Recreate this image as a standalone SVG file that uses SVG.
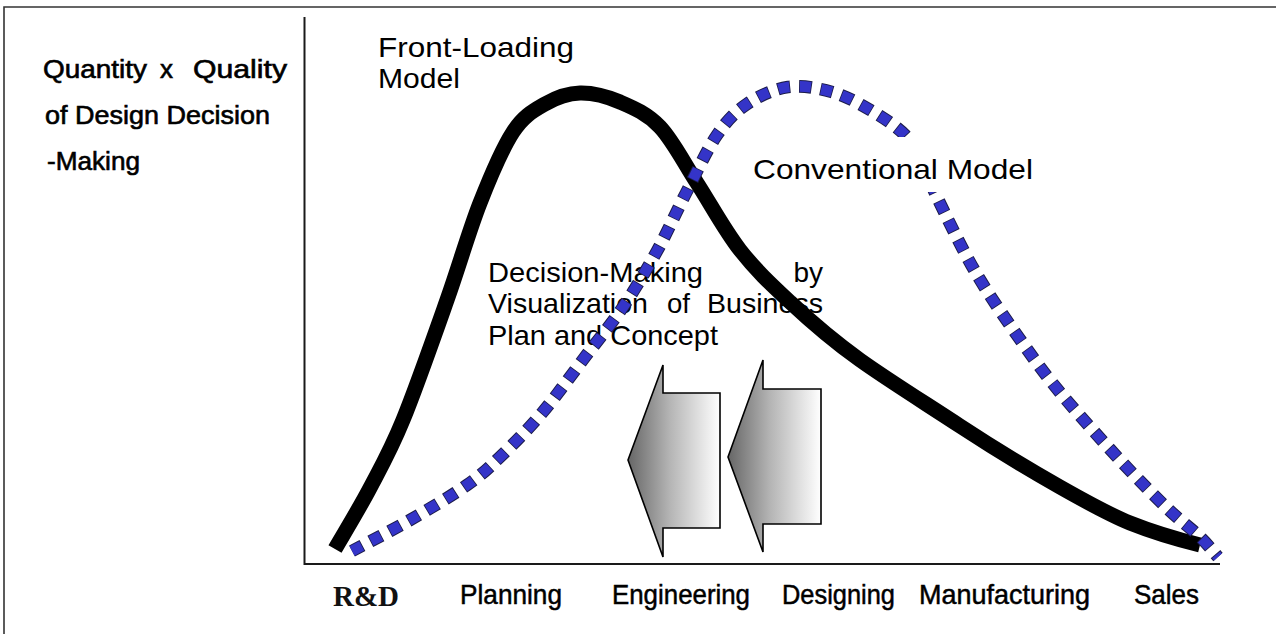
<svg xmlns="http://www.w3.org/2000/svg" width="1276" height="634" viewBox="0 0 1276 634">
  <style>
    .ylab { font-family: "Liberation Sans", Arial, sans-serif; font-size: 25px; fill: #000; stroke: #000; stroke-width: 0.6; }
    .xlab { font-family: "Liberation Sans", Arial, sans-serif; font-size: 28px; fill: #000; stroke: #000; stroke-width: 0.5; }
    .rd { font-family: "Liberation Serif", "Times New Roman", serif; font-size: 29px; font-weight: bold; fill: #111; }
    .note { font-family: "Liberation Sans", Arial, sans-serif; font-size: 28px; fill: #000; }
    .axis { stroke: #1a1a1a; stroke-width: 2; fill: none; }
    .frame { stroke: #333; stroke-width: 1.6; fill: none; }
    .arrow { fill: url(#arrowGrad); stroke: #000; stroke-width: 1.6; stroke-linejoin: miter; }
    .front { fill: none; stroke: #000; stroke-width: 15; stroke-linecap: butt; stroke-linejoin: round; }
    .convOutline { fill: none; stroke: #1c1c4a; stroke-width: 12.6; stroke-dasharray: 12.6 8.9; stroke-dashoffset: 0.8; stroke-linecap: butt; }
    .convFill { fill: none; stroke: #3434c8; stroke-width: 10.6; stroke-dasharray: 11 10.5; stroke-linecap: butt; }
  </style>
  <defs>
    <linearGradient id="arrowGrad" x1="0" y1="0" x2="1" y2="0">
      <stop offset="0" stop-color="#666666"/>
      <stop offset="0.45" stop-color="#b4b4b4"/>
      <stop offset="1" stop-color="#ffffff"/>
    </linearGradient>
    <path id="convPath" d="M352,551 C361.7,545.8 390.8,531 410,520 C429.2,509 452,495.5 467,485 C482,474.5 487.5,469 500,457 C512.5,445 527.8,429.7 542,413 C556.2,396.3 571.5,374.7 585,357 C598.5,339.3 611,324.7 623,307 C635,289.3 646.5,270 657,251 C667.5,232 676,212.3 686,193 C696,173.7 706.8,149.8 717,135 C727.2,120.2 735.2,112 747,104 C758.8,96 773.8,89 788,87 C802.2,85 818,88 832,92 C846,96 859.8,103.8 872,111 C884.2,118.2 896.7,126.5 905,135 C913.3,143.5 916.7,151.7 922,162 C927.3,172.3 928,178.5 937,197 C946,215.5 961.5,248.3 976,273 C990.5,297.7 1009.5,324.5 1024,345 C1038.5,365.5 1047,376.8 1063,396 C1079,415.2 1102.7,441.3 1120,460 C1137.3,478.7 1153.7,495.2 1167,508 C1180.3,520.8 1191.5,528.8 1200,537 C1208.5,545.2 1215,553.7 1218,557"/>
  </defs>

  <rect x="0" y="0" width="1276" height="634" fill="#ffffff"/>

  <g id="frame">
    <path class="frame" d="M4,634 V7 H1276"/>
  </g>

  <g id="axes">
    <path class="axis" d="M304.5,17 V564 H1220"/>
  </g>

  <g id="y-axis-label">
    <text class="ylab" x="43" y="78" textLength="104" lengthAdjust="spacingAndGlyphs">Quantity</text>
    <text class="ylab" x="160" y="78" textLength="13" lengthAdjust="spacingAndGlyphs">x</text>
    <text class="ylab" x="193" y="78" textLength="94" lengthAdjust="spacingAndGlyphs">Quality</text>
    <text class="ylab" x="45" y="124" textLength="225" lengthAdjust="spacingAndGlyphs">of Design Decision</text>
    <text class="ylab" x="47" y="170" textLength="93" lengthAdjust="spacingAndGlyphs">-Making</text>
  </g>

  <g id="x-axis-labels">
    <text class="rd" x="333" y="606" textLength="66" lengthAdjust="spacingAndGlyphs">R&amp;D</text>
    <text class="xlab" x="460" y="604" textLength="102" lengthAdjust="spacingAndGlyphs">Planning</text>
    <text class="xlab" x="612" y="604" textLength="138" lengthAdjust="spacingAndGlyphs">Engineering</text>
    <text class="xlab" x="782" y="604" textLength="113" lengthAdjust="spacingAndGlyphs">Designing</text>
    <text class="xlab" x="919" y="604" textLength="171" lengthAdjust="spacingAndGlyphs">Manufacturing</text>
    <text class="xlab" x="1134" y="604" textLength="65" lengthAdjust="spacingAndGlyphs">Sales</text>
  </g>

  <g id="arrows">
    <polygon class="arrow" points="628,460 663,365 663,393 720,393 720,528 663,528 663,557"/>
    <polygon class="arrow" points="728,457 763,360 763,389 821,389 821,524 763,524 763,552"/>
  </g>

  <g id="annotation">
    <text class="note" x="488" y="282" textLength="215" lengthAdjust="spacingAndGlyphs">Decision-Making</text>
    <text class="note" x="823" y="282" text-anchor="end">by</text>
    <text class="note" x="488" y="313" textLength="160" lengthAdjust="spacingAndGlyphs">Visualization</text>
    <text class="note" x="667" y="313" textLength="23" lengthAdjust="spacingAndGlyphs">of</text>
    <text class="note" x="707" y="313" textLength="116" lengthAdjust="spacingAndGlyphs">Business</text>
    <text class="note" x="488" y="345" textLength="230" lengthAdjust="spacingAndGlyphs">Plan and Concept</text>
  </g>

  <g id="front-loading-curve">
    <path class="front" d="M335,549 C340.8,538.8 358.7,509.5 370,488 C381.3,466.5 390.2,451.3 403,420 C415.8,388.7 434.2,336.2 447,300 C459.8,263.8 469,231 480,203 C491,175 502.2,148.5 513,132 C523.8,115.5 533.8,110.5 545,104 C556.2,97.5 567.5,93.3 580,93 C592.5,92.7 606.7,96.3 620,102 C633.3,107.7 647.2,113.5 660,127 C672.8,140.5 683.7,162.5 697,183 C710.3,203.5 724.5,230.2 740,250 C755.5,269.8 770,283.3 790,302 C810,320.7 832,340 860,360 C888,380 925,403 960,426 C995,449 1030,470 1060,487 C1090,504 1110,515 1130,523 C1155,533 1188,542 1200,545"/>
  </g>

  <g id="conventional-curve">
    <use href="#convPath" class="convOutline"/>
    <use href="#convPath" class="convFill"/>
  </g>

  <g id="front-loading-label">
    <text class="note" x="378" y="57" textLength="196" lengthAdjust="spacingAndGlyphs">Front-Loading</text>
    <text class="note" x="378" y="88" textLength="82" lengthAdjust="spacingAndGlyphs">Model</text>
  </g>

  <g id="conventional-label">
    <rect x="745" y="137" width="295" height="55" fill="#ffffff"/>
    <text class="note" x="753" y="179" textLength="280" lengthAdjust="spacingAndGlyphs">Conventional Model</text>
  </g>
</svg>
